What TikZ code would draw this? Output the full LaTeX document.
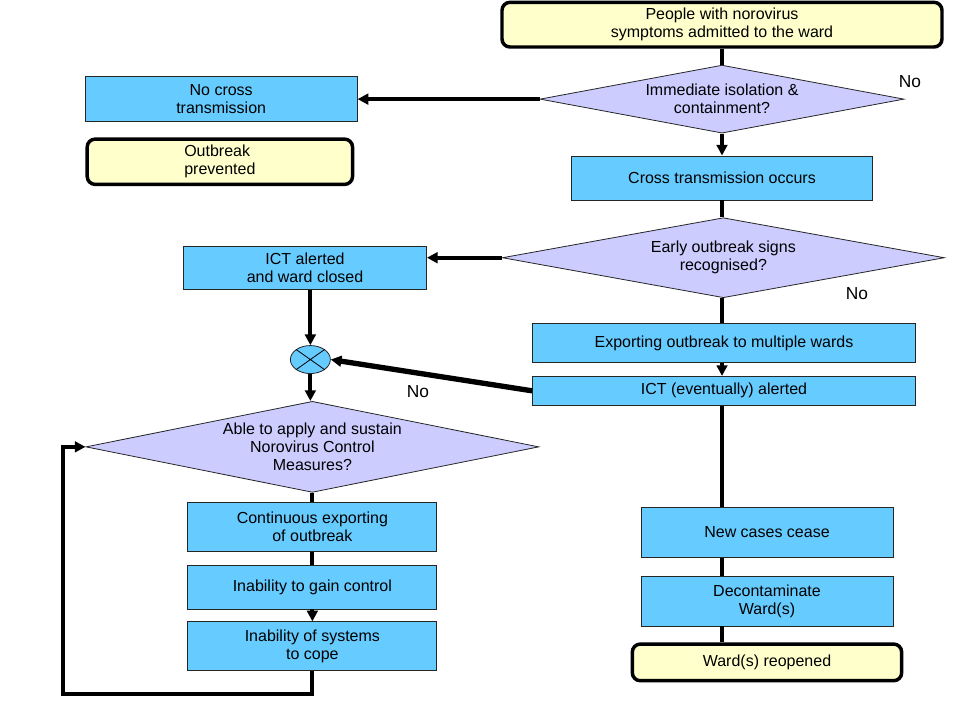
\documentclass[tikz,border=0pt]{standalone}
\usepackage{fontspec}
\setmainfont{Liberation Sans}
\usetikzlibrary{arrows.meta,positioning,shapes.geometric,calc}
\definecolor{boxblue}{HTML}{66CCFF}
\definecolor{asklilac}{HTML}{CCCCFF}
\definecolor{endyellow}{HTML}{FFFFCC}

\begin{document}
\begin{tikzpicture}[
          font=\fontsize{12pt}{13.5pt}\selectfont,
          box/.style  = {draw=black!85, line width=0.6pt, fill=boxblue, align=center, inner sep=0pt},
          term/.style = {draw, line width=2.6pt, rounded corners=6pt, fill=endyellow, align=center, inner sep=0pt},
          ask/.style  = {diamond, draw=black!85, line width=0.6pt, fill=asklilac, align=center, inner sep=0pt, aspect=5},
          wire/.style = {line width=3pt},
          flow/.style = {wire, -{Triangle[length=8pt,width=8pt]}},
          nolab/.style = {font=\fontsize{13pt}{15pt}\selectfont}
        ]
        \useasboundingbox (0,0) rectangle (720pt,540pt);

        % --- main column
        \node[term, minimum width=330pt, minimum height=33.5pt] (start) at (541.5pt,521.5pt) {People with norovirus\\symptoms admitted to the ward};
        \node[ask, minimum width=273pt, minimum height=51pt, below=12pt of start]          (isol)    {Immediate isolation \&\\containment?};
        \node[box, minimum width=225.75pt, minimum height=33pt, below=16.5pt of isol]      (cross)   {Cross transmission occurs};
        \node[ask, aspect=5.5, minimum width=331.5pt, minimum height=60pt, below=12.75pt of cross, xshift=1pt] (early) {Early outbreak signs\\recognised?};
        \node[box, minimum width=287.25pt, minimum height=29.25pt, below=18.75pt of early, xshift=0.5pt] (export) {Exporting outbreak to multiple wards};
        \node[box, minimum width=287.25pt, minimum height=21.75pt, below=9.75pt of export] (ictlate) {ICT (eventually) alerted};
        \node[box, minimum width=189pt, minimum height=37.5pt, below=75.75pt of ictlate, xshift=32.25pt] (newcases) {New cases cease};
        \node[box, minimum width=189pt, minimum height=37.5pt, below=13.5pt of newcases]  (decon)   {Decontaminate\\Ward(s)};
        \node[term, minimum width=202pt, minimum height=27.5pt, below=12pt of decon]      (reopen)  {Ward(s) reopened};

        % --- left column
        \node[box, minimum width=204pt, minimum height=33.75pt, left=136.5pt of isol]     (nocross) {No cross\\transmission};
        \node[term, align=left, minimum width=199pt, minimum height=34pt, below=11.5pt of nocross, xshift=-1pt] (prevent) {Outbreak\\prevented};
        \node[box, minimum width=182.25pt, minimum height=32.25pt, left=56.25pt of early, yshift=-7.9pt] (ictclosed) {ICT alerted\\and ward closed};
        \node[ellipse, draw=black!85, line width=0.6pt, fill=boxblue, inner sep=0pt,
              minimum width=30pt, minimum height=21pt, below=41.25pt of ictclosed, xshift=4pt] (merge) {};
        \node[ask, minimum width=339.75pt, minimum height=68.25pt, below=20.25pt of merge, xshift=1.5pt] (sustain) {Able to apply and sustain\\Norovirus Control\\Measures?};
        \node[box, minimum width=186.75pt, minimum height=36.75pt, below=6.75pt of sustain] (contexp) {Continuous exporting\\of outbreak};
        \node[box, minimum width=186.75pt, minimum height=33pt, below=9.75pt of contexp]  (gain)    {Inability to gain control};
        \node[box, minimum width=186.75pt, minimum height=36.75pt, below=9pt of gain]     (cope)    {Inability of systems\\to cope};

        % --- answer labels
        \node[nolab] (no1) at (682.5pt,478.5pt) {No};
        \node[nolab] (no2) at (642.75pt,319.5pt) {No};
        \node[nolab] (no3) at (313.5pt,246pt) {No};

        % cross in the merge point
        \draw[line width=0.6pt] (merge.north west) -- (merge.south east)
                                (merge.north east) -- (merge.south west);

        % loop corners
        \coordinate (loopB) at ($(cope.south)+(0,-17.25pt)$);
        \coordinate (loopL) at (47.25pt,0);

        % --- wiring
        \draw[wire] (start) -- (isol);
        \draw[flow] (isol) -- (cross);
        \draw[flow] (isol.west) -- (isol.west -| nocross.east);
        \draw[wire] (cross) -- (cross.south |- early.north);
        \draw[flow] (early.west) -- (early.west -| ictclosed.east);
        \draw[wire] (early.south -| cross.south) -- (export.north -| cross.south);
        \draw[flow] (export.south -| cross.south) -- (ictlate.north -| cross.south);
        \draw[wire] (ictlate.south -| cross.south) -- (newcases.north -| cross.south);
        \draw[wire] (newcases.south -| cross.south) -- (decon.north -| cross.south);
        \draw[wire] (decon.south -| cross.south) -- (reopen.north -| cross.south);
        \draw[flow] (merge.north |- ictclosed.south) -- (merge.north);
        \draw[flow, line width=4pt] (ictlate.west) -- (merge.east);
        \draw[flow] (merge.south) -- (merge.south |- sustain.north);
        \draw[wire] (sustain.south) -- (contexp.north -| sustain.south);
        \draw[wire] (contexp.south -| sustain.south) -- (gain.north -| sustain.south);
        \draw[flow] (gain.south -| sustain.south) -- (cope.north -| sustain.south);
        \draw[flow] (cope.south -| sustain.south) -- (loopB -| sustain.south) -- (loopB -| loopL) -- (sustain.west -| loopL) -- (sustain.west);
    \end{tikzpicture}
\end{document}
